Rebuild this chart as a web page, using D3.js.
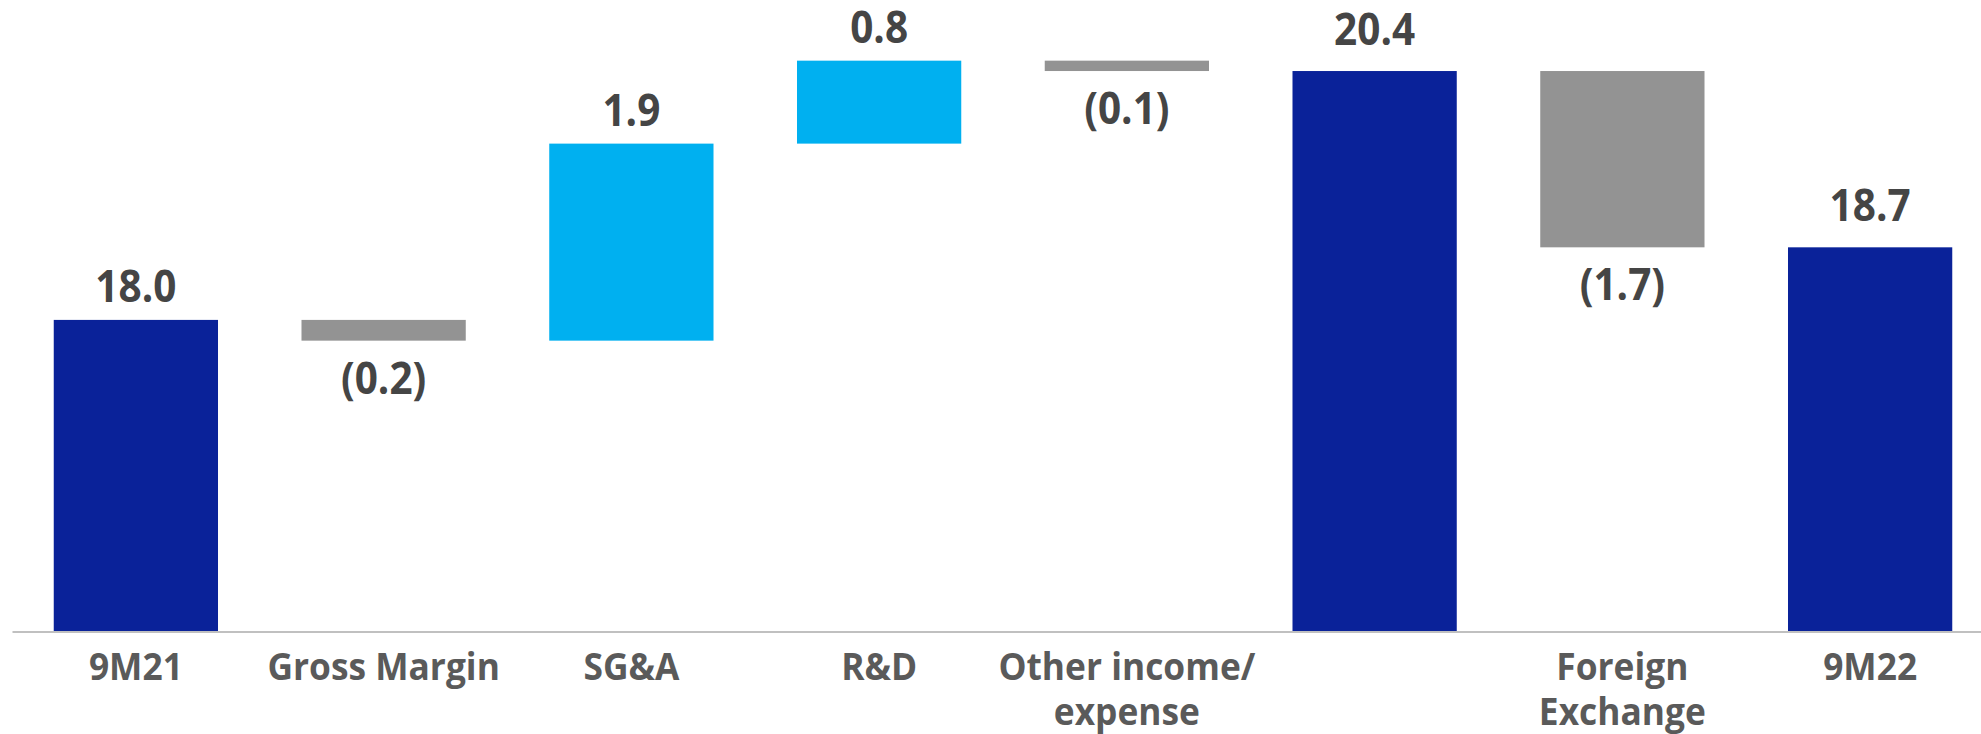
<!DOCTYPE html>
<html>
<head>
<meta charset="utf-8">
<script src="https://cdn.jsdelivr.net/npm/d3@7"></script>
<style>
  html, body { margin: 0; padding: 0; background: #ffffff; }
  svg { display: block; }
  text { font-family: "Open Sans", "Noto Sans", sans-serif; font-weight: 700; }
</style>
</head>
<body>
<svg id="chart" width="1981" height="734"></svg>
<script>
// ---- data ----
const categories = [["9M21"], ["Gross Margin"], ["SG&A"], ["R&D"], ["Other income/", "expense"], [""], ["Foreign", "Exchange"], ["9M22"]];
const values = [18.0, -0.2, 1.9, 0.8, -0.1, 20.4, -1.7, 18.7];
const kinds = ["start", "delta", "delta", "delta", "delta", "total", "delta", "total"];
const valueLabels = ["18.0", "(0.2)", "1.9", "0.8", "(0.1)", "20.4", "(1.7)", "18.7"];
const yDomain = [15, 21.085];

// ---- styles ----
const C_TOTAL = "#0a2299", C_UP = "#00b0f0", C_DOWN = "#939393";
const VALUE_COLOR = "#454545", AXIS_TEXT = "#5a5a5a", AXIS_LINE = "#c0c0c0";

const svg = d3.select("#chart");
const baseY = 631;

const x = d3.scaleBand()
  .domain(d3.range(values.length))
  .range([12, 1994])
  .paddingInner(0.337)
  .paddingOuter(0.1685);

const y = d3.scaleLinear().domain(yDomain).range([baseY, 0]);

// build waterfall segments
let running = 0;
const segs = values.map((v, i) => {
  let lo, hi, color;
  if (kinds[i] === "start" || kinds[i] === "total") {
    lo = yDomain[0]; hi = v; running = v; color = C_TOTAL;
  } else {
    const s = running, e = running + v;
    lo = Math.min(s, e); hi = Math.max(s, e); running = e;
    color = v >= 0 ? C_UP : C_DOWN;
  }
  return { i, v, lo, hi, color, kind: kinds[i], label: valueLabels[i] };
});

svg.append("g").selectAll("rect")
  .data(segs)
  .join("rect")
  .attr("x", d => x(d.i))
  .attr("width", x.bandwidth())
  .attr("y", d => y(d.hi))
  .attr("height", d => y(d.lo) - y(d.hi))
  .attr("fill", d => d.color);

// value labels
svg.append("g").selectAll("text")
  .data(segs)
  .join("text")
  .attr("transform", d => {
    const cx = x(d.i) + x.bandwidth() / 2;
    let cy;
    if (d.kind === "delta" && d.v < 0) cy = y(d.lo) + 53;
    else if (d.kind === "total") cy = y(d.hi) - 26;
    else cy = y(d.hi) - 17.5;
    return `translate(${cx},${cy}) scale(0.9,1)`;
  })
  .attr("text-anchor", "middle")
  .attr("font-size", 45)
  .attr("fill", VALUE_COLOR)
  .text(d => d.label);

// x axis
const axis = d3.axisBottom(x).tickSize(0).tickSizeOuter(0).tickFormat(() => "");
const gx = svg.append("g")
  .attr("transform", `translate(0,${baseY + 0.5})`)
  .call(axis);
gx.select(".domain").attr("stroke", AXIS_LINE).attr("stroke-width", 2);
gx.selectAll(".tick text").remove();
gx.selectAll(".tick").each(function(d) {
  const t = d3.select(this).append("text")
    .attr("text-anchor", "middle")
    .attr("font-size", 38)
    .attr("fill", AXIS_TEXT)
    .attr("transform", "translate(0,48.5) scale(0.93,1)");
  categories[d].forEach((line, k) => {
    t.append("tspan").attr("x", 0).attr("dy", k === 0 ? 0 : 45).text(line);
  });
});
</script>
</body>
</html>
